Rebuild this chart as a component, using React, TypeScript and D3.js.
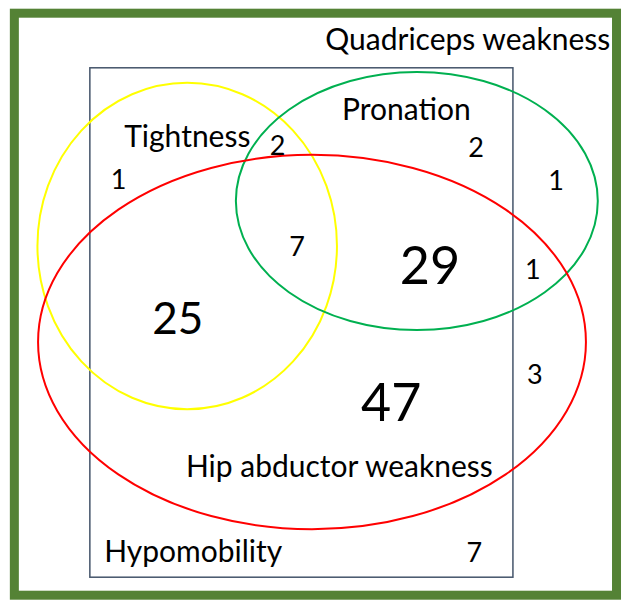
import React from 'react';
import * as d3 from 'd3';

// sets of the diagram
const setNames = ['Quadriceps weakness', 'Hypomobility', 'Tightness', 'Pronation', 'Hip abductor weakness'];
const setColors = ['#548235', '#44546A', '#FFFF00', '#00B050', '#FF0000'];

// counts in each region (same order as regionLayout)
const regionCounts = [1, 2, 2, 1, 7, 29, 1, 25, 3, 47, 7];

// layout in a 0..100 unit space
const regionLayout = [
  { x: 19, y: 31.5, big: false },
  { x: 44.5, y: 25.8, big: false },
  { x: 76.3, y: 26.1, big: false },
  { x: 89.1, y: 31.6, big: false },
  { x: 47.6, y: 42.7, big: false },
  { x: 68.9, y: 47.3, big: true },
  { x: 85.4, y: 46.5, big: false },
  { x: 28.5, y: 55.7, big: true },
  { x: 85.7, y: 64, big: false },
  { x: 62.7, y: 70.2, big: true },
  { x: 76, y: 93.6, big: false },
];

const W = 624;
const H = 600;
const x = d3.scaleLinear().domain([0, 100]).range([0, W]);
const y = d3.scaleLinear().domain([0, 100]).range([0, H]);

const font = 'Lato, Carlito, Calibri, sans-serif';
const labelSize = 30;

const App: React.FC = () => {
  const bigSize = (i: number) => (i === 7 ? 44 : 52);
  return (
    <div style={{ position: 'absolute', left: 0, top: 0 }}>
      <svg width={W} height={H} style={{ display: 'block', background: '#fff' }} fontFamily={font}>
        {/* Quadriceps weakness frame */}
        <rect x={x(2.3)} y={y(2.2)} width={x(96.5)} height={y(97)} fill="none" stroke={setColors[0]} strokeWidth={9} />
        {/* Hypomobility box */}
        <rect x={x(14.4)} y={y(11.3)} width={x(67.8)} height={y(84.9)} fill="none" stroke={setColors[1]} strokeWidth={1.5} />
        {/* Tightness */}
        <ellipse cx={x(30)} cy={y(41)} rx={x(24)} ry={y(27.2)} fill="none" stroke={setColors[2]} strokeWidth={2} />
        {/* Pronation */}
        <ellipse cx={x(66.8)} cy={y(33.5)} rx={x(29)} ry={y(21.5)} fill="none" stroke={setColors[3]} strokeWidth={2} />
        {/* Hip abductor weakness */}
        <ellipse cx={x(50)} cy={y(57)} rx={x(43.9)} ry={y(31.2)} fill="none" stroke={setColors[4]} strokeWidth={2} />

        <text x={x(97.8)} y={y(8.4)} fontSize={labelSize} textAnchor="end">{setNames[0]}</text>
        <text x={x(16.7)} y={y(93.6)} fontSize={labelSize}>{setNames[1]}</text>
        <text x={x(19.9)} y={y(24.5)} fontSize={labelSize}>{setNames[2]}</text>
        <text x={x(54.8)} y={y(20)} fontSize={labelSize}>{setNames[3]}</text>
        <text x={x(29.8)} y={y(79.5)} fontSize={labelSize}>{setNames[4]}</text>

        {regionCounts.map((c, i) => {
          const l = regionLayout[i];
          return (
            <text key={i} x={x(l.x)} y={y(l.y)} fontSize={l.big ? bigSize(i) : 27} textAnchor="middle">
              {c}
            </text>
          );
        })}
      </svg>
    </div>
  );
};

export default App;
